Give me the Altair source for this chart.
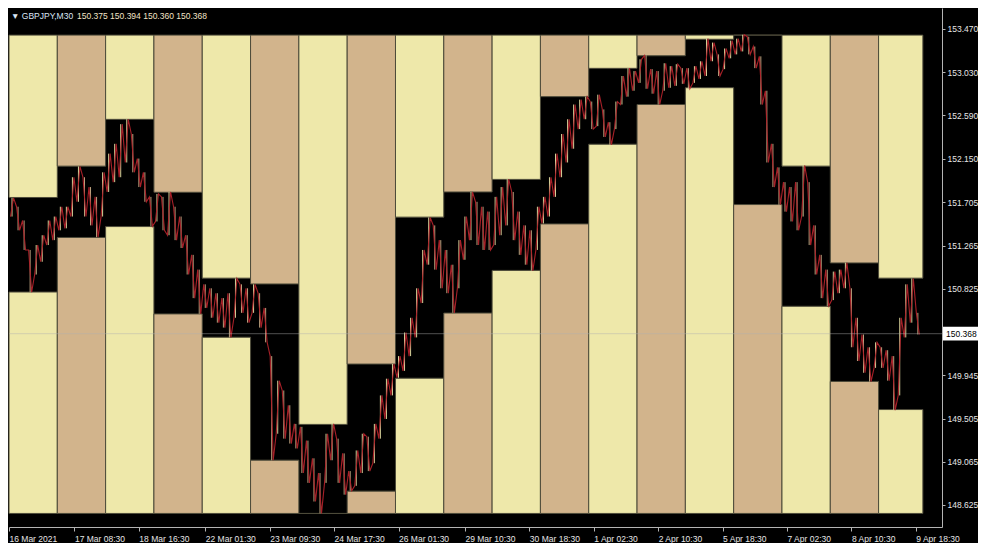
import json
import altair as alt
import pandas as pd

# ---------------- data ----------------
day_names = ["16 Mar", "17 Mar", "18 Mar", "19 Mar", "22 Mar", "23 Mar", "24 Mar", "25 Mar",
             "26 Mar", "29 Mar", "30 Mar", "31 Mar", "1 Apr", "2 Apr", "5 Apr", "6 Apr",
             "7 Apr", "8 Apr", "9 Apr"]
bars_in_day = [48] * 18 + [44]          # M30 bars per session
day_high = [151.754, 152.073, 152.549, 151.807, 150.933, 150.874, 149.445, 150.059, 151.554,
            151.810, 151.938, 152.780, 153.068, 153.196, 153.364, 153.406, 152.073, 151.088,
            150.933]
day_low = [150.792, 151.347, 151.458, 150.569, 150.332, 149.081, 148.539, 148.766, 149.915,
           150.578, 151.012, 151.485, 152.296, 152.700, 152.871, 151.682, 150.647, 149.882,
           149.596]

# 3-hour (6 bar) high / low of the price trace, per session
seg_high = [
    [151.75, 151.66, 151.52, 151.22, 151.27, 151.37, 151.52, 151.56],
    [151.66, 151.66, 151.96, 152.07, 151.96, 151.86, 151.76, 152.01],
    [152.20, 152.30, 152.50, 152.55, 152.40, 152.15, 152.01, 151.76],
    [151.79, 151.76, 151.81, 151.66, 151.56, 151.37, 151.17, 151.02],
    [150.87, 150.83, 150.78, 150.73, 150.78, 150.93, 150.87, 150.83],
    [150.87, 150.78, 150.63, 150.14, 149.89, 149.79, 149.64, 149.45],
    [149.42, 149.28, 149.10, 148.95, 149.35, 149.45, 149.30, 149.15],
    [148.97, 149.18, 149.35, 149.32, 149.45, 149.74, 149.91, 150.06],
    [150.14, 150.38, 150.53, 150.83, 151.22, 151.55, 151.47, 151.32],
    [151.22, 151.07, 151.32, 151.56, 151.81, 151.71, 151.66, 151.61],
    [151.76, 151.86, 151.94, 151.81, 151.61, 151.47, 151.42, 151.66],
    [151.76, 151.96, 152.20, 152.40, 152.55, 152.70, 152.75, 152.78],
    [152.73, 152.80, 152.65, 152.52, 152.73, 152.99, 153.07, 153.04],
    [153.16, 153.20, 153.06, 153.04, 153.12, 153.09, 153.11, 153.07],
    [153.07, 153.09, 153.14, 153.37, 153.33, 153.21, 153.27, 153.35],
    [153.37, 153.41, 153.39, 153.29, 153.19, 152.84, 152.30, 152.06],
    [151.91, 151.86, 151.91, 152.08, 151.91, 151.47, 151.17, 151.02],
    [151.00, 151.02, 151.09, 150.83, 150.53, 150.36, 150.23, 150.28],
    [150.23, 150.20, 150.14, 150.53, 150.87, 150.93, 150.58],
]
seg_low = [
    [151.56, 151.42, 151.22, 150.79, 150.97, 151.10, 151.27, 151.32],
    [151.42, 151.44, 151.56, 151.71, 151.56, 151.47, 151.35, 151.56],
    [151.81, 151.91, 151.96, 152.11, 152.01, 151.86, 151.71, 151.46],
    [151.51, 151.42, 151.37, 151.32, 151.24, 150.97, 150.73, 150.57],
    [150.63, 150.53, 150.48, 150.43, 150.33, 150.53, 150.58, 150.48],
    [150.58, 150.43, 150.28, 149.08, 149.35, 149.30, 149.25, 149.20],
    [148.95, 148.85, 148.66, 148.54, 148.85, 149.08, 148.85, 148.73],
    [148.77, 148.82, 148.95, 148.97, 149.05, 149.30, 149.50, 149.74],
    [149.92, 149.99, 150.14, 150.33, 150.68, 151.07, 151.02, 150.83],
    [150.78, 150.58, 150.83, 151.12, 151.32, 151.27, 151.22, 151.22],
    [151.27, 151.37, 151.47, 151.32, 151.17, 151.07, 151.01, 151.22],
    [151.49, 151.56, 151.76, 151.96, 152.11, 152.25, 152.45, 152.55],
    [152.45, 152.48, 152.37, 152.29, 152.45, 152.70, 152.78, 152.84],
    [152.92, 152.86, 152.81, 152.70, 152.84, 152.87, 152.89, 152.91],
    [152.86, 152.92, 152.96, 152.99, 153.14, 152.99, 153.06, 153.17],
    [153.21, 153.24, 153.21, 153.07, 152.70, 152.11, 151.86, 151.68],
    [151.61, 151.51, 151.42, 151.56, 151.27, 150.97, 150.73, 150.65],
    [150.71, 150.78, 150.83, 150.23, 150.09, 149.97, 149.88, 150.02],
    [150.02, 149.89, 149.59, 149.74, 150.33, 150.48, 150.36],
]

price_ticks = [148.625, 149.065, 149.505, 149.945, 150.825, 151.265, 151.705,
               152.150, 152.590, 153.030, 153.470]
time_tick_bars = [0, 65, 129, 195, 259, 323, 387, 453, 517, 581, 645, 709, 773, 837, 901]
time_tick_text = ["16 Mar 2021", "17 Mar 08:30", "18 Mar 16:30", "22 Mar 01:30",
                  "23 Mar 09:30", "24 Mar 17:30", "26 Mar 01:30", "29 Mar 10:30",
                  "30 Mar 18:30", "1 Apr 02:30", "2 Apr 10:30", "5 Apr 18:30",
                  "7 Apr 02:30", "8 Apr 10:30", "9 Apr 18:30"]
symbol = "GBPJPY,M30"
last_ohlc = [150.375, 150.394, 150.360, 150.368]
bars_visible = 927

# ---------------- tables ----------------
starts = [48 * i for i in range(len(day_names))]
box = pd.DataFrame({
    "day": day_names,
    "start": starts,
    "end": [s + n for s, n in zip(starts, bars_in_day)],
    "high": day_high,
    "low": day_low,
    "shade": ["a" if i % 2 == 0 else "b" for i in range(len(day_names))],
})
box["top"] = max(day_high)
box["bottom"] = min(day_low)

seg_rows, zig_rows = [], []
prev_mid = None
for d, (hs, ls) in enumerate(zip(seg_high, seg_low)):
    for k, (h, l) in enumerate(zip(hs, ls)):
        b = 48 * d + 6 * k
        mid = (h + l) / 2
        up = prev_mid is None or mid >= prev_mid
        prev_mid = mid
        seg_rows.append({"bar": b + 3, "hi": h, "lo": l, "dir": "up" if up else "down"})
        first, second = (l, h) if up else (h, l)
        zig_rows.append({"bar": b + 1.5, "p": first})
        zig_rows.append({"bar": b + 4.5, "p": second})
seg = pd.DataFrame(seg_rows)
zig = pd.DataFrame(zig_rows)

last = last_ohlc[3]
cur = pd.DataFrame({"p": [last], "p_hi": [last + 0.07], "p_lo": [last - 0.07],
                    "label": [f"{last:.3f}"]})
head = pd.DataFrame({"sym": ["\u25bc " + symbol],
                     "vals": [" ".join(f"{v:.3f}" for v in last_ohlc)]})

# ---------------- chart ----------------
W, H = 933, 519
FONT = "Liberation Sans"
FS = 8.5
xs = alt.Scale(domain=[0, bars_visible], nice=False, zero=False)
ys = alt.Scale(domain=[148.401, 153.682], nice=False, zero=False)
shade = alt.Scale(domain=["a", "b"], range=["#EEE8AA", "#D2B48C"])

label_expr = f"{json.dumps(time_tick_text)}[indexof({json.dumps(time_tick_bars)}, datum.value)]"

x_axis = alt.Axis(values=time_tick_bars, labelExpr=label_expr, title=None, grid=False,
                  labelAlign="left", labelFlush=False, labelOverlap=False, labelPadding=3,
                  tickSize=4, tickColor="#b4b4b4", domainColor="#b4b4b4",
                  labelColor="#e6e6e6", labelFont=FONT, labelFontSize=FS)
y_axis = alt.Axis(orient="right", values=price_ticks, format=".3f", title=None, grid=False,
                  tickSize=3, tickColor="#b4b4b4", domainColor="#b4b4b4", labelPadding=2,
                  labelColor="#e6e6e6", labelFont=FONT, labelFontSize=FS,
                  labelOverlap=False)


def X(field):
    return alt.X(field, scale=xs, axis=x_axis)


def Y(field):
    return alt.Y(field, scale=ys, axis=y_axis)


top_boxes = alt.Chart(box).mark_rect(stroke="#4d4b3a", strokeWidth=1).encode(
    x=X("start:Q"), x2="end:Q", y=Y("top:Q"), y2="high:Q",
    color=alt.Color("shade:N", scale=shade, legend=None),
)
bottom_boxes = alt.Chart(box).mark_rect(stroke="#4d4b3a", strokeWidth=1).encode(
    x=X("start:Q"), x2="end:Q", y=Y("low:Q"), y2="bottom:Q",
    color=alt.Color("shade:N", scale=shade, legend=None),
)
rules = alt.Chart(seg).mark_rule(strokeWidth=1, opacity=0.9).encode(
    x=X("bar:Q"), y=Y("lo:Q"), y2="hi:Q",
    color=alt.Color("dir:N", scale=alt.Scale(domain=["up", "down"],
                                             range=["#f3a7b5", "#8e1a1f"]), legend=None),
)
zigzag = alt.Chart(zig).mark_line(color="#b0222a", strokeWidth=1.1, opacity=0.95).encode(
    x=X("bar:Q"), y=Y("p:Q"), order="bar:Q",
)
price_line = alt.Chart(cur).mark_rule(color="#b0b0b0", strokeWidth=1, opacity=0.45).encode(
    y=Y("p:Q"),
)
price_box = alt.Chart(cur).mark_rect(color="#ffffff").encode(
    x=alt.value(W + 1), x2=alt.value(W + 36), y=Y("p_hi:Q"), y2="p_lo:Q",
)
price_text = alt.Chart(cur).mark_text(align="left", baseline="middle", color="#000000",
                                      font=FONT, fontSize=FS).encode(
    x=alt.value(W + 4), y=Y("p:Q"), text="label:N",
)
head_sym = alt.Chart(head).mark_text(align="left", baseline="middle", color="#dbe6f7",
                                     font=FONT, fontSize=FS).encode(
    x=alt.value(2), y=alt.value(8), text="sym:N")
head_vals = alt.Chart(head).mark_text(align="left", baseline="middle", color="#f3e3c6",
                                      font=FONT, fontSize=FS).encode(
    x=alt.value(68), y=alt.value(8), text="vals:N")

chart = alt.layer(
    top_boxes, bottom_boxes, rules, zigzag, price_line, price_box, price_text,
    head_sym, head_vals,
).properties(
    width=W, height=H, background="#000000",
    padding={"left": 0, "top": 0, "right": 0, "bottom": 0},
).configure_view(stroke=None, fill="#000000")

chart.save("out.html", embed_options={"renderer": "svg", "actions": False})
